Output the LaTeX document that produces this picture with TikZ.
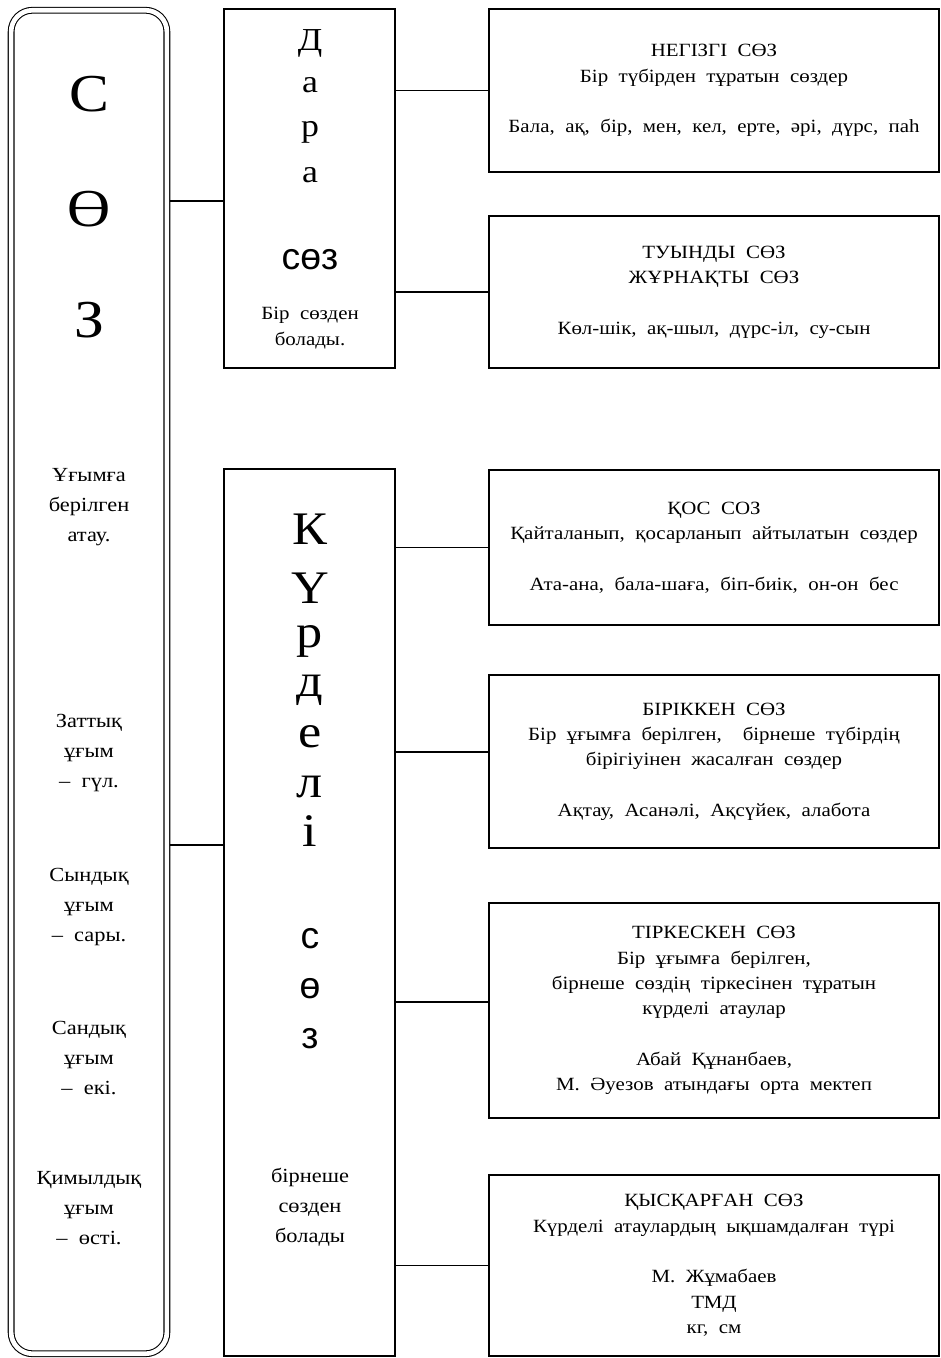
\documentclass[tikz,border=0pt]{standalone}
\usepackage{fontspec}
\setmainfont{Liberation Serif}[FakeStretch=1.12,WordSpace=2.0]
\newfontfamily\sansfnt{Liberation Sans}
\usetikzlibrary{positioning}

\begin{document}
\begin{tikzpicture}[x=0.75pt,y=-0.75pt,
    box/.style={draw,line width=1.3pt,inner sep=0pt,outer sep=0pt},
    link/.style={line width=1.3pt},
    txt/.style={align=center,font=\fontsize{14}{19}\selectfont},
    lbl/.style={align=center,font=\fontsize{15}{22.5}\selectfont},
    bigl/.style={anchor=base,font=\fontsize{40}{40}\selectfont},
    midl/.style={anchor=base,font=\fontsize{24}{24}\selectfont},
    tall/.style={anchor=base,font=\fontsize{35}{35}\selectfont},
    sansl/.style={anchor=base,font=\sansfnt\fontsize{28}{28}\selectfont}]
\useasboundingbox (0,0) rectangle (940,1358);

        % left column
        \node[draw,double,rounded corners=16pt,line width=0.8pt,double distance=3.5pt,
              minimum width=116.8pt,minimum height=1007.6pt,outer sep=2.55pt] (S) at (89,682) {};
        \node[bigl] (S1) at (89,112) {С};
        \node[bigl] (S2) at (89,227) {Ө};
        \node[bigl] (S3) at (89,338) {З};
        \node[lbl] (U) at (89,507) {Ұғымға\\берілген\\атау.};
        \node[lbl] (ZU) at (89,753) {Заттық\\ұғым\\– гүл.};
        \node[lbl] (SU) at (89,907) {Сындық\\ұғым\\– сары.};
        \node[lbl] (SNU) at (89,1058) {Сандық\\ұғым\\– екі.};
        \node[lbl] (QU) at (89,1208) {Қимылдық\\ұғым\\– өсті.};

        % middle column
        \node[box,minimum width=128.25pt,minimum height=269.25pt] (D) at (309.5,188.5) {};
        \node[midl] (D1) at (310,51) {Д};
        \node[midl] (D2) at (310,93) {а};
        \node[midl] (D3) at (310,137) {р};
        \node[midl] (D4) at (310,183) {а};
        \node[sansl] (DS) at (310,270) {сөз};
        \node[txt] (DT) at (310,328) {Бір сөзден\\болады.};

        \node[box,minimum width=128.25pt,minimum height=665.25pt] (K) at (309.5,912.5) {};
        \node[tall] (K1) at (310,544) {К};
        \node[tall] (K2) at (310,603) {Ү};
        \node[tall] (K3) at (310,647) {р};
        \node[tall] (K4) at (310,696) {д};
        \node[tall] (K5) at (310,747) {е};
        \node[tall] (K6) at (310,797) {л};
        \node[tall] (K7) at (310,846) {і};
        \node[sansl] (KS1) at (310,948) {с};
        \node[sansl] (KS2) at (310,998) {ө};
        \node[sansl] (KS3) at (310,1048) {з};
        \node[lbl] (KT) at (310,1207) {бірнеше\\сөзден\\болады};

        % right column
        \node[box,txt,minimum width=337.5pt,minimum height=122.25pt] (NS) at (714,90.5)
            {НЕГІЗГІ СӨЗ\\Бір түбірден тұратын сөздер\\[19pt]Бала, ақ, бір, мен, кел, ерте, әрі, дүрс, паһ};
        \node[box,txt,minimum width=337.5pt,minimum height=114pt] (TS) at (714,292)
            {ТУЫНДЫ СӨЗ\\ЖҰРНАҚТЫ СӨЗ\\[19pt]Көл-шік, ақ-шыл, дүрс-іл, су-сын};
        \node[box,txt,minimum width=337.5pt,minimum height=116.25pt] (QS) at (714,547.5)
            {ҚОС СОЗ\\Қайталанып, қосарланып айтылатын сөздер\\[19pt]Ата-ана, бала-шаға, біп-биік, он-он бес};
        \node[box,txt,minimum width=337.5pt,minimum height=129.75pt] (BS) at (714,761.5)
            {БІРІККЕН СӨЗ\\Бір ұғымға берілген,\ \ бірнеше түбірдің\\бірігіуінен жасалған сөздер\\[19pt]Ақтау, Асанәлі, Ақсүйек, алабота};
        \node[box,txt,minimum width=337.5pt,minimum height=161.25pt] (TKS) at (714,1010.5)
            {ТІРКЕСКЕН СӨЗ\\Бір ұғымға берілген,\\бірнеше сөздің тіркесінен тұратын\\күрделі атаулар\\[19pt]Абай Құнанбаев,\\М. Әуезов атындағы орта мектеп};
        \node[box,txt,minimum width=337.5pt,minimum height=135.75pt] (QQS) at (714,1265.5)
            {ҚЫСҚАРҒАН СӨЗ\\Күрделі атаулардың ықшамдалған түрі\\[19pt]М. Жұмабаев\\ТМД\\кг, см};

        % connectors
        \coordinate (DL) at ([yshift=-9.4pt]D.west);
        \coordinate (KL) at ([yshift=50.6pt]K.west);
        \coordinate (BL) at ([yshift=7.1pt]BS.west);
        \coordinate (TKL) at ([yshift=6.4pt]TKS.west);
        \draw[link] (S.east |- DL)--(DL);
        \draw[link] (S.east |- KL)--(KL);
        \draw[link] (D.east |- NS.west)--(NS.west);
        \draw[link] (D.east |- TS.west)--(TS.west);
        \draw[link] (K.east |- QS.west)--(QS.west);
        \draw[link] (K.east |- BL)--(BL);
        \draw[link] (K.east |- TKL)--(TKL);
        \draw[link] (K.east |- QQS.west)--(QQS.west);
    \end{tikzpicture}
\end{document}
